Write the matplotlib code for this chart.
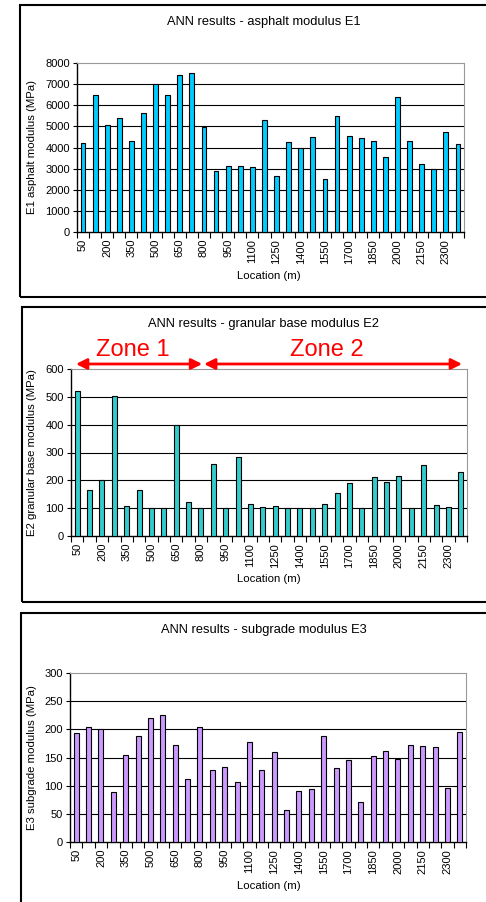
import matplotlib
matplotlib.use("Agg")
import matplotlib.pyplot as plt
from matplotlib.patches import Rectangle
import numpy as np

plt.rcParams['font.family'] = ['Liberation Sans', 'DejaVu Sans']

# locations (m), every 75 m
locations = list(range(50, 2376, 75))

e1_values = [4200, 6500, 5050, 5400, 4300, 5650, 7000, 6500, 7430, 7520, 4950,
             2900, 3140, 3140, 3080, 5280, 2670, 4270, 4000, 4510, 2510, 5470,
             4530, 4430, 4320, 3560, 6370, 4290, 3230, 3000, 4720, 4150]

e2_values = [521, 166, 202, 503, 108, 166, 100, 100, 399, 123, 100,
             257, 100, 283, 116, 105, 108, 100, 100, 100, 116, 156,
             189, 100, 211, 193, 214, 100, 254, 113, 105, 229]

e3_values = [193, 205, 200, 89, 155, 188, 221, 225, 172, 111, 205,
             128, 134, 107, 177, 128, 160, 57, 91, 94, 188, 132,
             146, 71, 152, 161, 148, 173, 170, 168, 96, 196]

titles = ['ANN results - asphalt modulus E1',
          'ANN results - granular base modulus E2',
          'ANN results - subgrade modulus E3']
ylabels = ['E1 asphalt modulus (MPa)',
           'E2 granular base modulus (MPa)',
           'E3 subgrade modulus (MPa)']
colors = ['#00CCFF', '#33CCCC', '#CC99FF']

W, H = 486, 902
fig = plt.figure(figsize=(W / 100, H / 100), dpi=100)

# axes boxes in pixels: left, right, top, bottom
axes_px = [(77, 464, 63, 232), (71, 467, 369, 536), (70, 466, 673, 842)]
frames_px = [(20, 5, 297), (22, 307, 602), (21, 613, 905)]
title_y = [22, 324, 630]
xlabel_y = [276, 579, 886]
yticks = [np.arange(0, 8001, 1000), np.arange(0, 601, 100), np.arange(0, 301, 50)]
data = [e1_values, e2_values, e3_values]

n = len(locations)
x = np.arange(n)
axes = []
for k in range(3):
    l, r, t, b = axes_px[k]
    fx, ft, fb = frames_px[k]
    fig.patches.append(Rectangle((fx / W, 1 - fb / H), (W + 10 - fx) / W, (fb - ft) / H,
                                 transform=fig.transFigure, fill=False,
                                 edgecolor='black', linewidth=1.5))
    ax = fig.add_axes([l / W, 1 - b / H, (r - l) / W, (b - t) / H])
    ax.bar(x, data[k], width=0.4, color=colors[k], edgecolor='black', linewidth=0.8, zorder=3)
    ax.set_xlim(-0.5, n - 0.5)
    yt = yticks[k]
    ax.set_ylim(0, yt[-1])
    ax.set_yticks(yt)
    ax.set_yticklabels([str(v) for v in yt], fontsize=8)
    for v in yt[1:-1]:
        ax.axhline(v, color='black', linewidth=0.8, zorder=1)
    ax.set_xticks(np.arange(-0.5, n, 1))
    ax.set_xticklabels([])
    ax.set_xticks(x[::2], minor=True)
    ax.set_xticklabels([str(v) for v in locations[::2]], minor=True, rotation=90, fontsize=8)
    ax.tick_params(axis='x', which='major', length=4, width=0.8, direction='out')
    ax.tick_params(axis='x', which='minor', length=0, pad=5)
    ax.tick_params(axis='y', length=3, width=0.8, pad=2)
    ax.spines['top'].set_color('#999999')
    ax.spines['right'].set_color('#999999')
    ax.spines['left'].set_linewidth(1.0)
    ax.spines['bottom'].set_linewidth(1.0)
    fig.text(0.543, 1 - title_y[k] / H, titles[k], ha='center', va='center', fontsize=9.3)
    fig.text(0.553, 1 - xlabel_y[k] / H, 'Location (m)', ha='center', va='center', fontsize=8.2)
    fig.text(32 / W, 1 - (t + b) / 2 / H, ylabels[k], ha='center', va='center',
             rotation=90, fontsize=8.2)
    axes.append(ax)

# zone annotations on E2 panel
ax2 = axes[1]
zones = [('Zone 1', -0.1, 10.1), ('Zone 2', 10.25, 31.1)]
for name, z0, z1 in zones:
    ax2.annotate('', xy=(z1, 618), xytext=(z0, 618), xycoords='data',
                 arrowprops=dict(arrowstyle='<|-|>', color='red', lw=2,
                                 mutation_scale=16, shrinkA=0, shrinkB=0),
                 annotation_clip=False)
    ax2.text((z0 + z1) / 2 - 0.5, 668, name, color='red', fontsize=17,
             ha='center', va='center', clip_on=False)

fig.savefig('out.png', dpi=100)
